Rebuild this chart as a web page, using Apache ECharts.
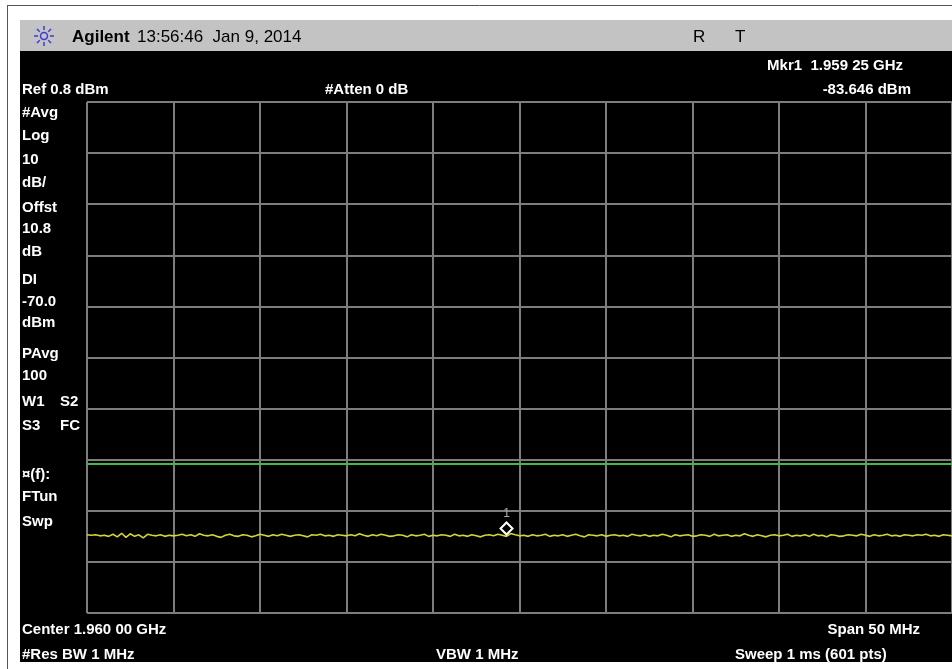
<!DOCTYPE html>
<html>
<head>
<meta charset="utf-8">
<script src="https://cdn.jsdelivr.net/npm/echarts@6/dist/echarts.min.js"></script>
<style>
  html, body { margin: 0; padding: 0; background: #fff; }
  #chart { width: 952px; height: 669px; }
</style>
</head>
<body>
<div id="chart"></div>
<script>
// sweep settings (MHz / dBm)
const startFreq = 1935
const stopFreq = 1985
const refLevel = 0.8
const bottomLevel = -99.2
const displayLine = -70.0
const marker = [1959.25, -83.646]

// trace, 0.25 MHz apart
const traceDbm = [
  -83.9, -84.0, -83.9, -84.1, -84.0, -84.2, -83.8, -84.3, -83.6, -84.4, -83.7, -84.2, -83.9, -84.5, -83.8, -84.0, -84.1, -83.9, -84.2, -84.0, -84.1,
  -84.0, -83.8, -84.1, -83.9, -84.2, -83.7, -84.0, -84.1, -83.9, -84.2, -84.4, -84.0, -83.8, -84.1, -84.2, -83.9, -84.0, -84.3, -84.1, -83.8,
  -84.0, -84.2, -83.9, -84.1, -83.8, -84.0, -84.2, -84.0, -83.9, -84.1, -84.3, -83.9, -84.0, -83.8, -84.1, -84.0, -84.2, -83.9, -84.0, -84.1,
  -83.9, -84.1, -83.7, -84.0, -84.2, -83.9, -84.1, -83.8, -84.0, -84.2, -84.1, -83.9, -84.0, -84.3, -83.9, -84.1, -84.0, -83.8, -84.2, -84.0,
  -84.1, -83.9, -84.0, -84.2, -83.8, -84.1, -84.0, -84.2, -83.9, -84.1, -84.3, -84.0, -83.9, -84.1, -83.8, -84.0, -84.2, -83.65, -83.9, -84.1,
  -84.0, -84.2, -83.9, -84.1, -84.0, -83.8, -84.2, -84.0, -84.1, -83.9, -84.2, -84.0, -83.8, -84.1, -84.3, -83.9, -84.0, -84.1, -83.9, -84.2,
  -84.0, -83.9, -84.1, -84.0, -84.2, -83.8, -84.0, -84.1, -83.9, -84.2, -84.0, -84.1, -83.8, -84.0, -84.3, -83.9, -84.1, -84.0, -83.9, -84.2,
  -84.1, -83.9, -84.0, -84.2, -83.8, -84.1, -84.0, -83.9, -84.2, -84.0, -84.1, -83.7, -84.0, -84.2, -83.9, -84.1, -84.3, -84.0, -83.9, -84.1,
  -84.0, -83.8, -84.2, -84.0, -84.1, -83.9, -84.2, -83.8, -84.1, -84.0, -84.3, -83.9, -84.0, -84.2, -84.1, -83.9, -84.0, -84.1, -83.8, -84.0,
  -84.2, -83.9, -84.1, -84.0, -83.8, -84.1, -84.0, -84.2, -83.9, -84.0, -84.1, -83.9, -84.0, -83.8, -84.1, -84.0, -84.2, -83.9, -84.0, -84.1
]

// annotation texts down the left side
const sideLabels = [
  ['#Avg', 113], ['Log', 136], ['10', 160], ['dB/', 183], ['Offst', 208], ['10.8', 229], ['dB', 252],
  ['DI', 280], ['-70.0', 302], ['dBm', 323], ['PAvg', 354], ['100', 376], ['W1', 402], ['S3', 426],
  ['\u00a4(f):', 475], ['FTun', 497], ['Swp', 522]
]

const chart = echarts.init(document.getElementById('chart'))

const step = (stopFreq - startFreq) / (traceDbm.length - 1)
const traceData = traceDbm.map((v, i) => [startFreq + i * step, v])

const FONT = 'Liberation Sans, Arial, sans-serif'

function txt(str, x, y, opts = {}) {
  return {
    type: 'text',
    z: 100,
    style: {
      text: str,
      x: x,
      y: y,
      fill: opts.fill || '#fff',
      font: opts.font || 'bold 15px ' + FONT,
      align: opts.align || 'left',
      verticalAlign: 'middle'
    }
  }
}

const graphics = [
  // frame, header bar and black screen
  { type: 'rect', z: -10, shape: { x: 20, y: 51, width: 932, height: 611 }, style: { fill: '#000' } },
  { type: 'rect', z: -10, shape: { x: 20, y: 20, width: 932, height: 31 }, style: { fill: '#c3c3c3' } },
  { type: 'line', z: -10, shape: { x1: 7.5, y1: 5, x2: 7.5, y2: 669 }, style: { stroke: '#555', lineWidth: 1 } },
  { type: 'line', z: -10, shape: { x1: 7, y1: 5.5, x2: 952, y2: 5.5 }, style: { stroke: '#555', lineWidth: 1 } },
  // logo
  { type: 'circle', z: 100, shape: { cx: 44, cy: 36, r: 3.5 }, style: { fill: 'none', stroke: '#3b3bd6', lineWidth: 1.5 } },
  txt('Agilent', 72, 37, { fill: '#000', font: 'bold 17px ' + FONT }),
  txt('13:56:46  Jan 9, 2014', 137, 37, { fill: '#000', font: '17px ' + FONT }),
  txt('R', 693, 37, { fill: '#000', font: '17px ' + FONT }),
  txt('T', 735, 37, { fill: '#000', font: '17px ' + FONT }),
  txt('Mkr1  1.959 25 GHz', 903, 66, { align: 'right' }),
  txt('-83.646 dBm', 911, 90, { align: 'right' }),
  txt('Ref 0.8 dBm', 22, 90),
  txt('#Atten 0 dB', 325, 90),
  txt('S2', 60, 402),
  txt('FC', 60, 426),
  txt('Center 1.960 00 GHz', 22, 630),
  txt('Span 50 MHz', 920, 630, { align: 'right' }),
  txt('#Res BW 1 MHz', 22, 655),
  txt('VBW 1 MHz', 436, 655),
  txt('Sweep 1 ms (601 pts)', 735, 655)
]
// logo rays
for (let k = 0; k < 8; k++) {
  const a = k * Math.PI / 4
  graphics.push({
    type: 'line', z: 100,
    shape: { x1: 44 + Math.cos(a) * 6, y1: 36 + Math.sin(a) * 6, x2: 44 + Math.cos(a) * 10, y2: 36 + Math.sin(a) * 10 },
    style: { stroke: '#3b3bd6', lineWidth: 1.5 }
  })
}
sideLabels.forEach(([s, y]) => graphics.push(txt(s, 22, y)))

const gridLine = { show: true, lineStyle: { color: '#7d7d7d', width: 2 } }

chart.setOption({
  backgroundColor: '#fff',
  animation: false,
  graphic: graphics,
  grid: { left: 87, top: 102, width: 866, height: 511 },
  xAxis: {
    type: 'value',
    min: startFreq,
    max: stopFreq,
    interval: 5,
    axisLine: { show: false },
    axisTick: { show: false },
    axisLabel: { show: false },
    splitLine: gridLine
  },
  yAxis: {
    type: 'value',
    min: bottomLevel,
    max: refLevel,
    interval: 10,
    axisLine: { show: false },
    axisTick: { show: false },
    axisLabel: { show: false },
    splitLine: gridLine
  },
  series: [
    {
      type: 'line',
      data: traceData,
      showSymbol: false,
      lineStyle: { color: '#d4d43a', width: 1.6 },
      markLine: {
        silent: true,
        symbol: 'none',
        label: { show: false },
        lineStyle: { color: '#3cbc4c', width: 2, type: 'solid' },
        data: [{ yAxis: displayLine }]
      },
      markPoint: {
        symbol: 'diamond',
        symbolSize: [12, 12],
        symbolOffset: [0, -5],
        itemStyle: { color: '#000', borderColor: '#fff', borderWidth: 2 },
        label: { show: true, position: 'top', distance: 2, formatter: '1', color: '#aaa', fontSize: 12, fontFamily: FONT },
        data: [{ coord: marker }]
      }
    }
  ]
})
</script>
</body>
</html>
